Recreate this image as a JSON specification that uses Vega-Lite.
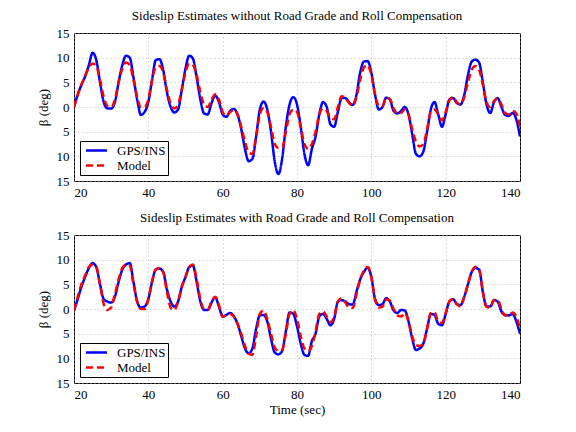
{
  "$schema": "https://vega.github.io/schema/vega-lite/v6.json",
  "background": "white",
  "padding": {"left": 36, "top": 9, "right": 5, "bottom": 5},
  "spacing": 11,
  "config": {
    "font": "Liberation Serif",
    "view": {"stroke": "black", "strokeWidth": 1},
    "title": {"font": "Liberation Serif", "fontSize": 13, "fontWeight": "normal", "color": "black", "anchor": "middle", "offset": 4},
    "axis": {
      "labelFont": "Liberation Serif", "labelFontSize": 13, "labelColor": "black",
      "titleFont": "Liberation Serif", "titleFontSize": 13, "titleFontWeight": "normal", "titleColor": "black",
      "domain": false, "ticks": false, "labelPadding": 5,
      "grid": true, "gridColor": "#a8a8a8", "gridDash": [1, 3], "gridWidth": 0.8
    },
    "legend": {
      "orient": "bottom-left", "offset": 6, "title": null,
      "fillColor": "white", "strokeColor": "black", "padding": 2,
      "labelFont": "Liberation Serif", "labelFontSize": 13, "labelColor": "black",
      "symbolType": "M-1.75,0H1.75", "symbolSize": 144, "symbolStrokeWidth": 2.5,
      "symbolOffset": 7, "labelOffset": 13, "rowPadding": 0
    }
  },
  "datasets": {
    "without": [
      {"t":20,"GPS/INS":0,"Model":0},{"t":21,"GPS/INS":2.5,"Model":2.5},{"t":22,"GPS/INS":4.5,"Model":4.5},{"t":23,"GPS/INS":6.2,"Model":6.3},{"t":24,"GPS/INS":8.5,"Model":8},
      {"t":25,"GPS/INS":11,"Model":8.8},{"t":26,"GPS/INS":9.5,"Model":8.3},{"t":27,"GPS/INS":5,"Model":5.5},{"t":28,"GPS/INS":1,"Model":2},{"t":29,"GPS/INS":-0.3,"Model":0.2},
      {"t":30,"GPS/INS":-0.3,"Model":0},{"t":31,"GPS/INS":1,"Model":1.5},{"t":32,"GPS/INS":5,"Model":5},{"t":33,"GPS/INS":8.5,"Model":7.8},{"t":34,"GPS/INS":10.4,"Model":9},
      {"t":35,"GPS/INS":10,"Model":8.5},{"t":36,"GPS/INS":6,"Model":5.5},{"t":37,"GPS/INS":1.5,"Model":2},{"t":38,"GPS/INS":-1.6,"Model":0},{"t":39,"GPS/INS":-1,"Model":0},
      {"t":40,"GPS/INS":1,"Model":1.5},{"t":41,"GPS/INS":5.5,"Model":5.5},{"t":42,"GPS/INS":9.5,"Model":8},{"t":43,"GPS/INS":9.7,"Model":8.3},{"t":44,"GPS/INS":7.5,"Model":7},
      {"t":45,"GPS/INS":3,"Model":3.5},{"t":46,"GPS/INS":0,"Model":0.7},{"t":47,"GPS/INS":-1.1,"Model":-0.3},{"t":48,"GPS/INS":-0.5,"Model":0.5},{"t":49,"GPS/INS":3.5,"Model":3.5},
      {"t":50,"GPS/INS":7.8,"Model":7},{"t":51,"GPS/INS":10.4,"Model":8.8},{"t":52,"GPS/INS":9.8,"Model":8.5},{"t":53,"GPS/INS":6,"Model":6.5},{"t":54,"GPS/INS":1.5,"Model":3},
      {"t":55,"GPS/INS":-1.3,"Model":0.5},{"t":56,"GPS/INS":-1.5,"Model":0},{"t":57,"GPS/INS":0.8,"Model":1.5},{"t":58,"GPS/INS":2.3,"Model":2.6},{"t":59,"GPS/INS":1,"Model":1.5},
      {"t":60,"GPS/INS":-1.5,"Model":-1},{"t":61,"GPS/INS":-2,"Model":-1.8},{"t":62,"GPS/INS":-0.8,"Model":-1},{"t":63,"GPS/INS":-0.4,"Model":-0.6},{"t":64,"GPS/INS":-1.5,"Model":-1.5},
      {"t":65,"GPS/INS":-4.5,"Model":-4},{"t":66,"GPS/INS":-8.5,"Model":-7},{"t":67,"GPS/INS":-11,"Model":-9.2},{"t":68,"GPS/INS":-10.5,"Model":-9.5},{"t":69,"GPS/INS":-6,"Model":-6},
      {"t":70,"GPS/INS":-0.5,"Model":-1.5},{"t":71,"GPS/INS":1.1,"Model":-0.2},{"t":72,"GPS/INS":-0.5,"Model":-1},{"t":73,"GPS/INS":-5,"Model":-4},{"t":74,"GPS/INS":-11,"Model":-7.5},
      {"t":75,"GPS/INS":-13.6,"Model":-8.3},{"t":76,"GPS/INS":-10.5,"Model":-8.3},{"t":77,"GPS/INS":-4,"Model":-5},{"t":78,"GPS/INS":0.5,"Model":-1.5},{"t":79,"GPS/INS":2,"Model":-0.5},
      {"t":80,"GPS/INS":0.5,"Model":-1},{"t":81,"GPS/INS":-4,"Model":-4},{"t":82,"GPS/INS":-9.5,"Model":-7.5},{"t":83,"GPS/INS":-11.8,"Model":-8.5},{"t":84,"GPS/INS":-8.5,"Model":-7.5},
      {"t":85,"GPS/INS":-6,"Model":-5},{"t":86,"GPS/INS":-1.5,"Model":-1.5},{"t":87,"GPS/INS":1,"Model":-0.3},{"t":88,"GPS/INS":0,"Model":-0.8},{"t":89,"GPS/INS":-3.5,"Model":-2.2},
      {"t":90,"GPS/INS":-4,"Model":-2.5},{"t":91,"GPS/INS":-1,"Model":0},{"t":92,"GPS/INS":1.8,"Model":2.2},{"t":93,"GPS/INS":1.8,"Model":1.8},{"t":94,"GPS/INS":1,"Model":0.8},
      {"t":95,"GPS/INS":0.4,"Model":0.3},{"t":96,"GPS/INS":2.5,"Model":2},{"t":97,"GPS/INS":7,"Model":5.5},{"t":98,"GPS/INS":9.2,"Model":8},{"t":99,"GPS/INS":9.3,"Model":8.5},
      {"t":100,"GPS/INS":7,"Model":6.5},{"t":101,"GPS/INS":2.5,"Model":2.5},{"t":102,"GPS/INS":-0.5,"Model":0.3},{"t":103,"GPS/INS":0,"Model":0.2},{"t":104,"GPS/INS":1.9,"Model":1.9},
      {"t":105,"GPS/INS":1.5,"Model":1.6},{"t":106,"GPS/INS":-0.8,"Model":-0.3},{"t":107,"GPS/INS":-1.3,"Model":-1.3},{"t":108,"GPS/INS":-0.8,"Model":-1.2},{"t":109,"GPS/INS":0,"Model":-0.5},
      {"t":110,"GPS/INS":-1.5,"Model":-1.5},{"t":111,"GPS/INS":-5.5,"Model":-4.5},{"t":112,"GPS/INS":-9.5,"Model":-7},{"t":113,"GPS/INS":-10,"Model":-8},{"t":114,"GPS/INS":-9,"Model":-7.5},
      {"t":115,"GPS/INS":-5,"Model":-4.5},{"t":116,"GPS/INS":-0.5,"Model":-1},{"t":117,"GPS/INS":1,"Model":-0.5},{"t":118,"GPS/INS":-1.5,"Model":-1.5},{"t":119,"GPS/INS":-4,"Model":-2.7},
      {"t":120,"GPS/INS":-1.5,"Model":-1},{"t":121,"GPS/INS":1.5,"Model":1.3},{"t":122,"GPS/INS":1.8,"Model":2},{"t":123,"GPS/INS":0.8,"Model":1},{"t":124,"GPS/INS":0.5,"Model":0.5},
      {"t":125,"GPS/INS":2.5,"Model":2},{"t":126,"GPS/INS":6.5,"Model":5},{"t":127,"GPS/INS":9.2,"Model":7.5},{"t":128,"GPS/INS":9.6,"Model":8.3},{"t":129,"GPS/INS":9,"Model":7.5},
      {"t":130,"GPS/INS":5,"Model":4.5},{"t":131,"GPS/INS":0.5,"Model":1},{"t":132,"GPS/INS":-1.2,"Model":0},{"t":133,"GPS/INS":1,"Model":1.2},{"t":134,"GPS/INS":1.8,"Model":1.7},
      {"t":135,"GPS/INS":0,"Model":0.5},{"t":136,"GPS/INS":-1.6,"Model":-1.2},{"t":137,"GPS/INS":-1.8,"Model":-1.5},{"t":138,"GPS/INS":-1.2,"Model":-0.8},{"t":139,"GPS/INS":-2.5,"Model":-1.3},
      {"t":140,"GPS/INS":-6,"Model":-4}
    ],
    "with": [
      {"t":20,"GPS/INS":-0.3,"Model":-0.3},{"t":21,"GPS/INS":2,"Model":2.5},{"t":22,"GPS/INS":4.5,"Model":5},{"t":23,"GPS/INS":6.5,"Model":6.8},{"t":24,"GPS/INS":8.3,"Model":8.5},
      {"t":25,"GPS/INS":9.3,"Model":9},{"t":26,"GPS/INS":8.5,"Model":8.5},{"t":27,"GPS/INS":5,"Model":5},{"t":28,"GPS/INS":2,"Model":1},{"t":29,"GPS/INS":1.5,"Model":-0.2},
      {"t":30,"GPS/INS":1.3,"Model":0.3},{"t":31,"GPS/INS":2.5,"Model":3},{"t":32,"GPS/INS":5.5,"Model":6},{"t":33,"GPS/INS":8,"Model":8.3},{"t":34,"GPS/INS":9,"Model":9},
      {"t":35,"GPS/INS":9.3,"Model":8.8},{"t":36,"GPS/INS":5.5,"Model":5},{"t":37,"GPS/INS":1.5,"Model":1.5},{"t":38,"GPS/INS":0.3,"Model":0},{"t":39,"GPS/INS":0.5,"Model":0},
      {"t":40,"GPS/INS":2,"Model":2},{"t":41,"GPS/INS":5.5,"Model":5.5},{"t":42,"GPS/INS":8,"Model":8},{"t":43,"GPS/INS":8.2,"Model":8.3},{"t":44,"GPS/INS":7.5,"Model":7.5},
      {"t":45,"GPS/INS":4,"Model":3.5},{"t":46,"GPS/INS":1.5,"Model":0.3},{"t":47,"GPS/INS":0.5,"Model":-0.2},{"t":48,"GPS/INS":1.5,"Model":1.5},{"t":49,"GPS/INS":4.5,"Model":4.5},
      {"t":50,"GPS/INS":6.5,"Model":6.5},{"t":51,"GPS/INS":8.5,"Model":8.5},{"t":52,"GPS/INS":8.8,"Model":9},{"t":53,"GPS/INS":5.5,"Model":6},{"t":54,"GPS/INS":1.5,"Model":2},
      {"t":55,"GPS/INS":-0.2,"Model":0},{"t":56,"GPS/INS":-0.2,"Model":-0.1},{"t":57,"GPS/INS":1.3,"Model":1.5},{"t":58,"GPS/INS":2.4,"Model":2.5},{"t":59,"GPS/INS":0.5,"Model":0.8},
      {"t":60,"GPS/INS":-1.5,"Model":-1.5},{"t":61,"GPS/INS":-1.2,"Model":-1.3},{"t":62,"GPS/INS":-0.8,"Model":-1},{"t":63,"GPS/INS":-1.5,"Model":-1.5},{"t":64,"GPS/INS":-3,"Model":-3},
      {"t":65,"GPS/INS":-5.5,"Model":-5},{"t":66,"GPS/INS":-8,"Model":-7.5},{"t":67,"GPS/INS":-9,"Model":-9},{"t":68,"GPS/INS":-8,"Model":-9.3},{"t":69,"GPS/INS":-4,"Model":-5.5},
      {"t":70,"GPS/INS":-1.3,"Model":-1},{"t":71,"GPS/INS":-1.2,"Model":-0.3},{"t":72,"GPS/INS":-2.5,"Model":-2},{"t":73,"GPS/INS":-6,"Model":-5},{"t":74,"GPS/INS":-8.8,"Model":-7.8},
      {"t":75,"GPS/INS":-9.2,"Model":-8.5},{"t":76,"GPS/INS":-8.5,"Model":-8.3},{"t":77,"GPS/INS":-4.5,"Model":-5},{"t":78,"GPS/INS":-0.7,"Model":-1},{"t":79,"GPS/INS":-1,"Model":-0.3},
      {"t":80,"GPS/INS":-3.5,"Model":-2},{"t":81,"GPS/INS":-7,"Model":-5.5},{"t":82,"GPS/INS":-9.3,"Model":-8},{"t":83,"GPS/INS":-9.5,"Model":-8.5},{"t":84,"GPS/INS":-6.5,"Model":-7.5},
      {"t":85,"GPS/INS":-5,"Model":-4.5},{"t":86,"GPS/INS":-1.5,"Model":-1},{"t":87,"GPS/INS":-1,"Model":-0.5},{"t":88,"GPS/INS":-2,"Model":-1.5},{"t":89,"GPS/INS":-3.3,"Model":-2.7},
      {"t":90,"GPS/INS":-2,"Model":-1.5},{"t":91,"GPS/INS":1.5,"Model":1.5},{"t":92,"GPS/INS":1.8,"Model":2.2},{"t":93,"GPS/INS":1.5,"Model":1.3},{"t":94,"GPS/INS":1,"Model":0.3},
      {"t":95,"GPS/INS":0.9,"Model":0.2},{"t":96,"GPS/INS":3.5,"Model":3},{"t":97,"GPS/INS":6,"Model":6},{"t":98,"GPS/INS":7.5,"Model":7.8},{"t":99,"GPS/INS":8.4,"Model":8.5},
      {"t":100,"GPS/INS":6.5,"Model":6.5},{"t":101,"GPS/INS":2,"Model":2},{"t":102,"GPS/INS":0.8,"Model":0.3},{"t":103,"GPS/INS":1,"Model":0.5},{"t":104,"GPS/INS":2.2,"Model":2},
      {"t":105,"GPS/INS":1.5,"Model":1.7},{"t":106,"GPS/INS":-0.3,"Model":0},{"t":107,"GPS/INS":-0.8,"Model":-1.3},{"t":108,"GPS/INS":-0.2,"Model":-1.5},{"t":109,"GPS/INS":-0.3,"Model":-0.8},
      {"t":110,"GPS/INS":-2.5,"Model":-2.5},{"t":111,"GPS/INS":-6,"Model":-5.5},{"t":112,"GPS/INS":-8.3,"Model":-7.3},{"t":113,"GPS/INS":-8,"Model":-7.5},{"t":114,"GPS/INS":-7,"Model":-7},
      {"t":115,"GPS/INS":-4,"Model":-4},{"t":116,"GPS/INS":-1,"Model":-0.8},{"t":117,"GPS/INS":-1.2,"Model":-0.7},{"t":118,"GPS/INS":-3,"Model":-2.5},{"t":119,"GPS/INS":-3.3,"Model":-2.8},
      {"t":120,"GPS/INS":-1,"Model":-0.8},{"t":121,"GPS/INS":1.5,"Model":1.5},{"t":122,"GPS/INS":2,"Model":2},{"t":123,"GPS/INS":1,"Model":1},{"t":124,"GPS/INS":0.8,"Model":0.5},
      {"t":125,"GPS/INS":2.5,"Model":2.5},{"t":126,"GPS/INS":5,"Model":5},{"t":127,"GPS/INS":7.5,"Model":7.5},{"t":128,"GPS/INS":8.3,"Model":8.5},{"t":129,"GPS/INS":8,"Model":8},
      {"t":130,"GPS/INS":3.5,"Model":3.5},{"t":131,"GPS/INS":0.5,"Model":0.5},{"t":132,"GPS/INS":0.5,"Model":0.3},{"t":133,"GPS/INS":1.8,"Model":1.8},{"t":134,"GPS/INS":1.5,"Model":1.8},
      {"t":135,"GPS/INS":-0.5,"Model":0},{"t":136,"GPS/INS":-1.2,"Model":-1.3},{"t":137,"GPS/INS":-1.3,"Model":-1.3},{"t":138,"GPS/INS":-1,"Model":-0.7},{"t":139,"GPS/INS":-2.5,"Model":-1.5},
      {"t":140,"GPS/INS":-5,"Model":-4}
    ]
  },
  "vconcat": [
    {
      "title": "Sideslip Estimates without Road Grade and Roll Compensation",
      "data": {"name": "without"},
      "transform": [{"fold": ["GPS/INS", "Model"], "as": ["series", "beta"]}],
      "width": 446,
      "height": 148,
      "mark": {"type": "line", "interpolate": "monotone", "strokeWidth": 2.5, "clip": true},
      "encoding": {
        "x": {"field": "t", "type": "quantitative", "scale": {"domain": [20, 140], "nice": false},
              "axis": {"values": [20, 40, 60, 80, 100, 120, 140], "title": null}},
        "y": {"field": "beta", "type": "quantitative", "scale": {"domain": [-15, 15], "nice": false},
              "axis": {"values": [-15, -10, -5, 0, 5, 10, 15], "labelExpr": "toString(abs(datum.value))", "title": "β (deg)", "titlePadding": 6}},
        "color": {"field": "series", "type": "nominal",
                  "scale": {"domain": ["GPS/INS", "Model"], "range": ["#0000ff", "#ff0000"]}},
        "strokeDash": {"field": "series", "type": "nominal",
                       "scale": {"domain": ["GPS/INS", "Model"], "range": [[1, 0], [7, 4]]}}
      }
    },
    {
      "title": "Sideslip Estimates with Road Grade and Roll Compensation",
      "data": {"name": "with"},
      "transform": [{"fold": ["GPS/INS", "Model"], "as": ["series", "beta"]}],
      "width": 446,
      "height": 148,
      "mark": {"type": "line", "interpolate": "monotone", "strokeWidth": 2.5, "clip": true},
      "encoding": {
        "x": {"field": "t", "type": "quantitative", "scale": {"domain": [20, 140], "nice": false},
              "axis": {"values": [20, 40, 60, 80, 100, 120, 140], "title": "Time (sec)", "titlePadding": 2}},
        "y": {"field": "beta", "type": "quantitative", "scale": {"domain": [-15, 15], "nice": false},
              "axis": {"values": [-15, -10, -5, 0, 5, 10, 15], "labelExpr": "toString(abs(datum.value))", "title": "β (deg)", "titlePadding": 6}},
        "color": {"field": "series", "type": "nominal",
                  "scale": {"domain": ["GPS/INS", "Model"], "range": ["#0000ff", "#ff0000"]}},
        "strokeDash": {"field": "series", "type": "nominal",
                       "scale": {"domain": ["GPS/INS", "Model"], "range": [[1, 0], [7, 4]]}}
      }
    }
  ],
  "resolve": {
    "scale": {"color": "independent", "strokeDash": "independent"},
    "legend": {"color": "independent", "strokeDash": "independent"}
  }
}
